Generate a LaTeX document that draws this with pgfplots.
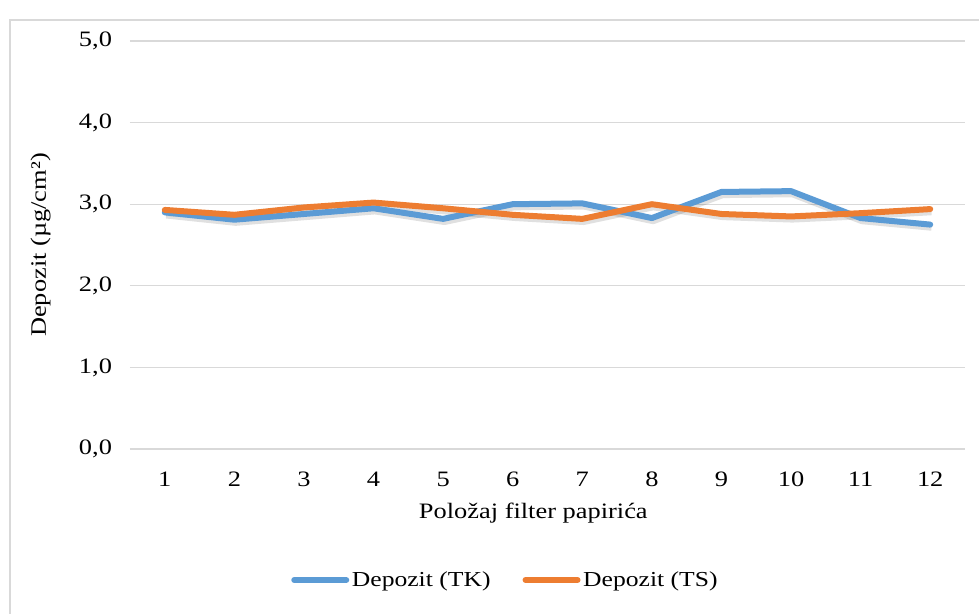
\documentclass[border=0pt]{standalone}
\usepackage{fontspec}
\setmainfont[FakeStretch=1.2]{Liberation Serif}
\usepackage{pgfplots}
\pgfplotsset{compat=1.18}

\definecolor{tkblue}{HTML}{5B9BD5}
\definecolor{tsorange}{HTML}{ED7D31}
\definecolor{gridgray}{HTML}{D9D9D9}

\begin{document}
\begin{tikzpicture}[font=\fontsize{16.5}{19}\selectfont]
\useasboundingbox (0,0) rectangle (734.25pt,460.5pt);
\draw[gridgray, line width=0.8pt] (7.5pt,-5pt) rectangle (740pt,445.5pt);
\begin{axis}[
  at={(97.5pt,123.75pt)}, anchor=south west,
  scale only axis, width=626.25pt, height=306pt,
  xmin=0.5, xmax=12.5, ymin=0, ymax=5,
  xtick={1,...,12}, ytick={0,1,2,3,4,5},
  axis line style={draw=none}, tick style={draw=none},
  ymajorgrids, grid style={gridgray, line width=0.9pt},
  /pgf/number format/assume math mode=true,
  yticklabel style={anchor=east, xshift=-10pt},
  y tick label style={/pgf/number format/fixed, /pgf/number format/fixed zerofill,
    /pgf/number format/precision=1, /pgf/number format/use comma},
  xticklabel style={anchor=center, yshift=-22.5pt},
  xlabel={Položaj filter papirića},
  ylabel={Depozit (µg/cm²)},
  xlabel style={at={(axis description cs:0.483,-0.157)}, anchor=center},
  ylabel style={at={(axis description cs:-0.107,0.5)}, anchor=center},
  legend style={at={(0.45,-0.321)}, anchor=center, draw=none, fill=none,
    legend columns=2, font=\fontsize{16}{19}\selectfont,
    /tikz/every even column/.append style={column sep=22pt}},
  legend image code/.code={\draw[#1, line width=4.5pt, line cap=round] (0pt,0pt) -- (39pt,0pt);},
  line join=round,
]
% soft shadows
\addplot[black, opacity=0.12, line width=5.2pt, transform canvas={xshift=1pt, yshift=-2pt}, forget plot]
  coordinates {(1,2.90) (2,2.81) (3,2.88) (4,2.95) (5,2.82) (6,3.00) (7,3.01) (8,2.83) (9,3.15) (10,3.16) (11,2.83) (12,2.75)};
\addplot[black, opacity=0.12, line width=5.2pt, transform canvas={xshift=1pt, yshift=-2pt}, forget plot]
  coordinates {(1,2.93) (2,2.87) (3,2.96) (4,3.02) (5,2.95) (6,2.87) (7,2.82) (8,3.00) (9,2.88) (10,2.85) (11,2.89) (12,2.94)};
% Depozit (TK)
\addplot[tkblue, line width=4.5pt, line cap=round]
  coordinates {(1,2.90) (2,2.81) (3,2.88) (4,2.95) (5,2.82) (6,3.00) (7,3.01) (8,2.83) (9,3.15) (10,3.16) (11,2.83) (12,2.75)};
% Depozit (TS)
\addplot[tsorange, line width=4.5pt, line cap=round]
  coordinates {(1,2.93) (2,2.87) (3,2.96) (4,3.02) (5,2.95) (6,2.87) (7,2.82) (8,3.00) (9,2.88) (10,2.85) (11,2.89) (12,2.94)};
\legend{Depozit (TK), Depozit (TS)}
\end{axis}
\end{tikzpicture}
\end{document}
